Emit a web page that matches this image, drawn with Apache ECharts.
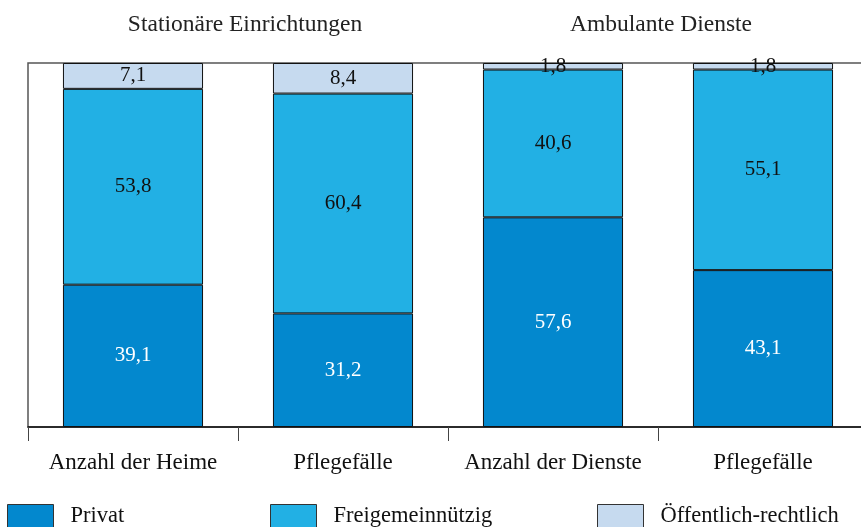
<!DOCTYPE html>
<html>
<head>
<meta charset="utf-8">
<script src="https://cdn.jsdelivr.net/npm/echarts@6/dist/echarts.min.js"></script>
<style>
  html, body { margin: 0; padding: 0; background: #fff; }
  #chart { width: 861px; height: 527px; }
</style>
</head>
<body>
<div id="chart"></div>
<script>
var categories = ['Anzahl der Heime', 'Pflegefälle', 'Anzahl der Dienste', 'Pflegefälle'];
var groupTitles = ['Stationäre Einrichtungen', 'Ambulante Dienste'];
var privat = [39.1, 31.2, 57.6, 43.1];
var freigemein = [53.8, 60.4, 40.6, 55.1];
var oeffentlich = [7.1, 8.4, 1.8, 1.8];

var serif = '"Liberation Serif", "DejaVu Serif", serif';

function fmt(p) {
    return String(p.value).replace('.', ',');
}

function makeSeries(name, data, color, labelColor) {
    return {
        name: name,
        type: 'bar',
        stack: 'total',
        data: data,
        barWidth: '66.7%',
        itemStyle: { color: color, borderColor: '#111', borderWidth: 1 },
        label: {
            show: true,
            position: 'inside',
            formatter: fmt,
            color: labelColor,
            fontFamily: serif,
            fontSize: 21
        }
    };
}

function legendAt(name, left) {
    return {
        data: [name],
        left: left,
        top: 504,
        padding: 0,
        itemWidth: 46,
        itemHeight: 24,
        itemGap: 0,
        icon: 'rect',
        itemStyle: { borderColor: '#333', borderWidth: 1 },
        textStyle: { fontFamily: serif, fontSize: 22.5, color: '#111', padding: [0, 0, 0, 12] }
    };
}

var chart = echarts.init(document.getElementById('chart'));
var option = {
    animation: false,
    title: [
        { text: groupTitles[0], left: 240, top: 8, textAlign: 'center',
          textStyle: { fontFamily: serif, fontSize: 23.5, fontWeight: 'normal', color: '#222' } },
        { text: groupTitles[1], left: 656, top: 8, textAlign: 'center',
          textStyle: { fontFamily: serif, fontSize: 23.5, fontWeight: 'normal', color: '#222' } }
    ],
    legend: [
        legendAt('Privat', 7),
        legendAt('Freigemeinnützig', 270),
        legendAt('Öffentlich-rechtlich', 597)
    ],
    grid: {
        left: 28, top: 63, width: 840, height: 364,
        show: true, borderColor: '#555', borderWidth: 1.5,
        containLabel: false, outerBoundsMode: 'none'
    },
    xAxis: {
        type: 'category',
        data: categories,
        axisLine: { show: true, lineStyle: { color: '#111', width: 1.5 } },
        axisTick: { show: true, interval: 0, length: 14, lineStyle: { color: '#444', width: 1 } },
        axisLabel: { interval: 0, fontFamily: serif, fontSize: 23, color: '#111', margin: 24 }
    },
    yAxis: {
        type: 'value',
        min: 0, max: 100,
        show: false
    },
    series: [
        makeSeries('Privat', privat, '#0388CE', '#fff'),
        makeSeries('Freigemeinnützig', freigemein, '#22B0E4', '#111'),
        makeSeries('Öffentlich-rechtlich', oeffentlich, '#C6DAEF', '#111')
    ]
};
chart.setOption(option);
</script>
</body>
</html>
